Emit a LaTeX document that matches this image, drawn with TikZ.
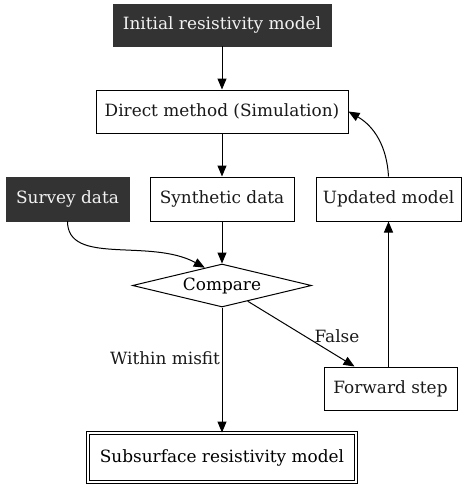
\documentclass[tikz,border=0pt]{standalone}
\usepackage{fontspec}
\setmainfont{DejaVu Serif}
\usetikzlibrary{arrows.meta,shapes.geometric,calc}
\definecolor{darkbox}{HTML}{333333}
\definecolor{lighttext}{HTML}{F2F2F2}
\begin{document}
\begin{tikzpicture}[x=1pt,y=-1pt,
  every node/.style={font=\fontsize{16.9}{20}\selectfont},
  plainbox/.style={draw=black, line width=1pt, fill=white, rectangle, inner sep=0pt, text=black!90},
  darknode/.style={draw=darkbox, fill=darkbox, rectangle, inner sep=0pt, text=lighttext},
  decision/.style={draw=black, line width=1pt, diamond, aspect=4.16, inner sep=0pt, minimum width=179pt, minimum height=43pt},
  finalbox/.style={draw=black, line width=0.9pt, double, double distance=2.6pt, rectangle, inner sep=0pt},
  conn/.style={draw=black, line width=1pt, -{Triangle[length=11pt,width=9pt]}},
  lbl/.style={text=black!90, inner sep=0pt}
]
\useasboundingbox (0,0) rectangle (463,485);
\node[darknode, minimum width=218pt, minimum height=42pt] (init) at (222,25) {Initial resistivity model};
\node[plainbox, minimum width=252pt, minimum height=43pt] (direct) at (222,111.5) {Direct method (Simulation)};
\node[darknode, minimum width=123pt, minimum height=44pt] (survey) at (67.5,199) {Survey data};
\node[plainbox, minimum width=144pt, minimum height=44pt] (synth) at (222,199) {Synthetic data};
\node[plainbox, minimum width=145pt, minimum height=44pt] (upd) at (388.5,199) {Updated model};
\node[decision] (cmp) at (222,285.5) {Compare};
\node[plainbox, minimum width=133pt, minimum height=43pt] (fwd) at (390.5,388.5) {Forward step};
\node[finalbox, minimum width=268pt, minimum height=49pt] (final) at (222,457.5) {Subsurface resistivity model};
\node[lbl] (lfalse) at (337,336) {False};
\node[lbl] (lwithin) at (165,358) {Within misfit};

\draw[conn] (init) -- (direct);
\draw[conn] (direct) -- (synth);
\draw[conn] (synth) -- (cmp);
\draw[conn] (survey.south) .. controls +(0,45) and +(-55,-30) .. (cmp.134);
\draw[conn] (cmp) -- (fwd);
\draw[conn] (cmp.south) -- (cmp.south |- final.north);
\draw[conn] (fwd.north -| upd.south) -- (upd.south);
\draw[conn] (upd.north) to[out=93,in=-30] (direct.east);
\end{tikzpicture}
\end{document}
